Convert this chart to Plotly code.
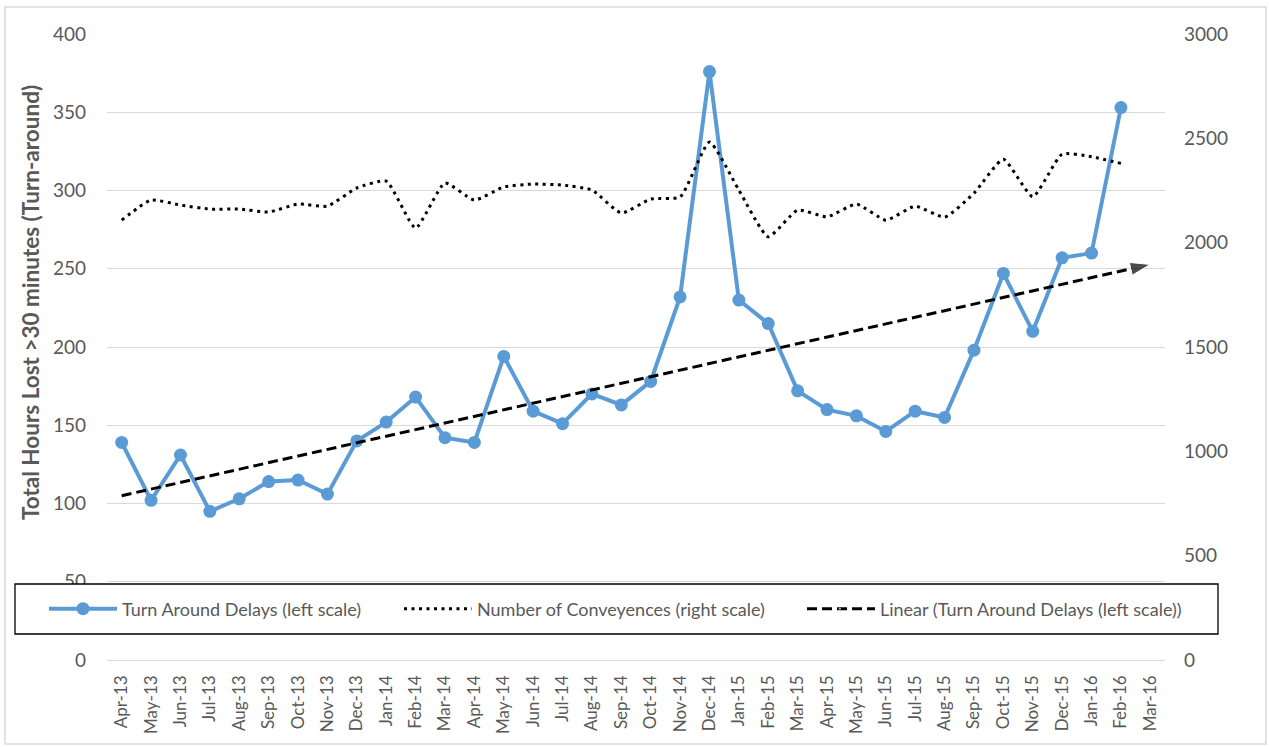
import plotly.graph_objects as go
import numpy as np

months = ["Apr-13", "May-13", "Jun-13", "Jul-13", "Aug-13", "Sep-13", "Oct-13", "Nov-13",
          "Dec-13", "Jan-14", "Feb-14", "Mar-14", "Apr-14", "May-14", "Jun-14", "Jul-14",
          "Aug-14", "Sep-14", "Oct-14", "Nov-14", "Dec-14", "Jan-15", "Feb-15", "Mar-15",
          "Apr-15", "May-15", "Jun-15", "Jul-15", "Aug-15", "Sep-15", "Oct-15", "Nov-15",
          "Dec-15", "Jan-16", "Feb-16", "Mar-16"]

delays = [139, 102, 131, 95, 103, 114, 115, 106, 140, 152, 168, 142, 139, 194, 159, 151,
          170, 163, 178, 232, 376, 230, 215, 172, 160, 156, 146, 159, 155, 198, 247, 210,
          257, 260, 353]

conveyances = [2108, 2204, 2180, 2161, 2161, 2147, 2185, 2175, 2262, 2295, 2070, 2286,
               2204, 2267, 2281, 2276, 2252, 2142, 2209, 2219, 2482, 2252, 2028, 2156,
               2124, 2185, 2108, 2175, 2122, 2237, 2400, 2220, 2424, 2412, 2380]

left_ticks = [0, 50, 100, 150, 200, 250, 300, 350, 400]
right_ticks = [0, 500, 1000, 1500, 2000, 2500, 3000]

# Linear trendline of the delays series (as Excel computes it), extended to the last category
xi = np.arange(len(delays))
slope, inter = np.polyfit(xi, delays, 1)
trend = [inter + slope * i for i in range(len(months))]

W, H = 1269, 747
L, R, T, B = 107, 104, 34, 87
pw, ph = W - L - R, H - T - B
def px(x):
    return (x - L) / pw
def py(y):
    return (H - B - y) / ph

FONT = "Lato"
GREY = "#595959"
BLUE = "#5B9BD5"

fig = go.Figure()
fig.add_trace(go.Scatter(
    x=months[:len(delays)], y=delays, mode="lines+markers",
    name="Turn Around Delays (left scale)",
    line=dict(color=BLUE, width=4),
    marker=dict(color=BLUE, size=13),
    yaxis="y", legend="legend"))
fig.add_trace(go.Scatter(
    x=months[:len(conveyances)], y=conveyances, mode="lines",
    name="Number of Conveyences (right scale)",
    line=dict(color="black", width=3, dash="3px,4.5px", shape="spline", smoothing=0.5),
    yaxis="y2", legend="legend2"))
fig.add_trace(go.Scatter(
    x=months, y=trend, mode="lines+markers",
    name="Linear (Turn Around Delays (left scale))",
    line=dict(color="black", width=3, dash="10px,5px"),
    marker=dict(symbol="arrow", angleref="previous", color="black",
                size=[0] * (len(months) - 1) + [21]),
    yaxis="y", legend="legend3"))

def leg(xpix):
    return dict(orientation="h", xref="paper", yref="paper",
                x=px(xpix), y=py(609), xanchor="left", yanchor="middle",
                bgcolor="rgba(0,0,0,0)", borderwidth=0,
                font=dict(family=FONT, size=18, color=GREY),
                itemwidth=68, tracegroupgap=0)

fig.update_layout(
    width=W, height=H, autosize=False,
    margin=dict(l=L, r=R, t=T, b=B, pad=0, autoexpand=False),
    paper_bgcolor="white", plot_bgcolor="white",
    font=dict(family=FONT, color=GREY),
    showlegend=True,
    legend=leg(44), legend2=leg(399), legend3=leg(802),
    xaxis=dict(type="category", categoryorder="array", categoryarray=months,
               range=[-0.5, len(months) - 0.5],
               tickangle=-90, tickfont=dict(family=FONT, size=17, color=GREY),
               showgrid=False, showline=False, ticks="", ticklabelstandoff=11),
    yaxis=dict(range=[0, 400], tickvals=left_ticks, showgrid=True, gridcolor="#d9d9d9",
               gridwidth=1, zeroline=True, zerolinecolor="#d9d9d9", zerolinewidth=1,
               tickfont=dict(family=FONT, size=19, color=GREY), ticks="",
               ticklabelstandoff=20, showline=False),
    yaxis2=dict(range=[0, 3000], tickvals=right_ticks, overlaying="y", side="right",
                showgrid=False, zeroline=False, showline=False, ticks="",
                tickfont=dict(family=FONT, size=19, color=GREY), ticklabelstandoff=18),
    shapes=[
        dict(type="rect", xref="paper", yref="paper", x0=px(5), x1=px(1266), y0=py(7), y1=py(744),
             line=dict(color="#d9d9d9", width=1.5), fillcolor="rgba(0,0,0,0)", layer="below"),
        dict(type="rect", xref="paper", yref="paper", x0=px(15), x1=px(1218), y0=py(584), y1=py(634),
             line=dict(color="black", width=1.3), fillcolor="white", layer="above"),
    ],
    annotations=[
        dict(text="<b>Total Hours Lost >30 minutes (Turn-around)</b>", xref="paper", yref="paper",
             x=px(30), y=py(303), textangle=-90, showarrow=False,
             font=dict(family=FONT, size=22.5, color=GREY), xanchor="center", yanchor="middle"),
    ],
)

fig.write_html("out.html")
